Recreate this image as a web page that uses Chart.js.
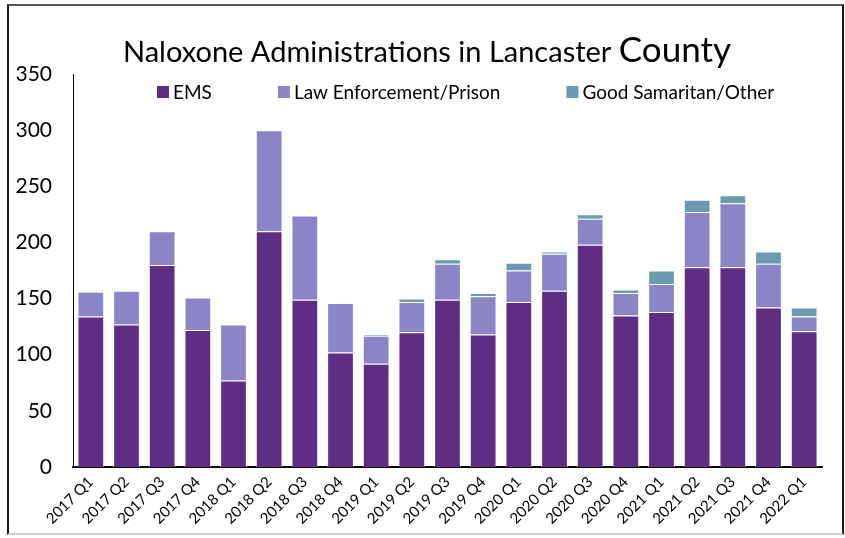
<!DOCTYPE html>
<html>
<head>
<meta charset="utf-8">
<title>Naloxone Administrations in Lancaster County</title>
<script src="https://cdn.jsdelivr.net/npm/chart.js@4.4.1/dist/chart.umd.min.js"></script>
<style>
  html, body { margin: 0; padding: 0; background: #fff; }
  #wrap { position: relative; width: 845px; height: 538px; overflow: hidden; }
  #frame {
    position: absolute; left: 7px; top: 4px; width: 837px; height: 531px;
    box-sizing: border-box;
    border-top: 2px solid #555; border-left: 2px solid #1a1a1a;
    border-right: 2px solid #1a1a1a; border-bottom: 2px solid #cfcfcf;
    pointer-events: none;
  }
  canvas { position: absolute; left: 0; top: 0; }
</style>
</head>
<body>
<div id="wrap">
  <canvas id="chart" width="845" height="538"></canvas>
  <div id="frame"></div>
</div>
<script>
// Quarterly naloxone administrations by who administered them
const quarters = [
  '2017 Q1', '2017 Q2', '2017 Q3', '2017 Q4',
  '2018 Q1', '2018 Q2', '2018 Q3', '2018 Q4',
  '2019 Q1', '2019 Q2', '2019 Q3', '2019 Q4',
  '2020 Q1', '2020 Q2', '2020 Q3', '2020 Q4',
  '2021 Q1', '2021 Q2', '2021 Q3', '2021 Q4',
  '2022 Q1'
];
const ems = [134, 127, 180, 122, 77, 210, 149, 102, 92, 120, 149, 118, 147, 157, 198, 135, 138, 178, 178, 142, 121];
const lawEnforcement = [22, 30, 30, 29, 50, 90, 75, 44, 25, 27, 32, 34, 28, 33, 23, 20, 25, 49, 57, 39, 13];
const goodSamaritan = [0, 0, 0, 0, 0, 0, 0, 0, 1, 3, 4, 3, 7, 2, 4, 3, 12, 11, 7, 11, 8];

const yTicks = [0, 50, 100, 150, 200, 250, 300, 350];

const titleMain = 'Naloxone Administrations in Lancaster ';
const titleEnd = 'County';

const FONT = 'Lato, "Open Sans", sans-serif';

// Title (two sizes) and a single-row legend drawn onto the canvas
const headerPlugin = {
  id: 'header',
  afterDraw(chart) {
    const ctx = chart.ctx;
    ctx.save();
    ctx.fillStyle = '#000';
    ctx.textBaseline = 'alphabetic';
    ctx.textAlign = 'left';
    ctx.font = '29px ' + FONT;
    const w1 = ctx.measureText(titleMain).width;
    ctx.font = '35px ' + FONT;
    const w2 = ctx.measureText(titleEnd).width;
    const x0 = 427 - (w1 + w2) / 2;
    ctx.font = '29px ' + FONT;
    ctx.fillText(titleMain, x0, 62);
    ctx.font = '35px ' + FONT;
    ctx.fillText(titleEnd, x0 + w1, 62);

    ctx.font = '19px ' + FONT;
    let x = 157;
    chart.data.datasets.forEach(ds => {
      ctx.fillStyle = ds.backgroundColor;
      ctx.fillRect(x, 86, 12, 12);
      ctx.fillStyle = '#000';
      ctx.fillText(ds.label, x + 16, 99);
      x += 16 + ctx.measureText(ds.label).width + 66;
    });
    ctx.restore();
  }
};

const barBorder = 'rgba(255,255,255,0.55)';

new Chart(document.getElementById('chart'), {
  type: 'bar',
  data: {
    labels: quarters,
    datasets: [
      { label: 'EMS', data: ems, backgroundColor: '#5e2d84', borderColor: barBorder, borderWidth: 1 },
      { label: 'Law Enforcement/Prison', data: lawEnforcement, backgroundColor: '#8985c6', borderColor: barBorder, borderWidth: 1 },
      { label: 'Good Samaritan/Other', data: goodSamaritan, backgroundColor: '#6a9ab2', borderColor: barBorder, borderWidth: 1 }
    ]
  },
  options: {
    responsive: false,
    animation: false,
    layout: { padding: { top: 74, right: 23, bottom: 5, left: 0 } },
    datasets: { bar: { categoryPercentage: 1, barPercentage: 0.75 } },
    plugins: {
      legend: { display: false },
      title: { display: false },
      tooltip: { enabled: false }
    },
    scales: {
      x: {
        stacked: true,
        grid: { display: false, drawTicks: false },
        border: { display: true, color: '#000', width: 2 },
        ticks: {
          color: '#000',
          font: { family: FONT, size: 15 },
          minRotation: 45, maxRotation: 45,
          padding: 6,
          autoSkip: false
        },
        afterFit(scale) { scale.height = 66; }
      },
      y: {
        stacked: true,
        min: 0, max: 350,
        grid: { display: false, drawTicks: false },
        border: { display: true, color: '#000', width: 1 },
        afterBuildTicks(scale) { scale.ticks = yTicks.map(v => ({ value: v })); },
        ticks: {
          color: '#000',
          font: { family: FONT, size: 21 },
          padding: 21
        },
        afterFit(scale) { scale.width = 73; }
      }
    }
  },
  plugins: [headerPlugin]
});
</script>
</body>
</html>
